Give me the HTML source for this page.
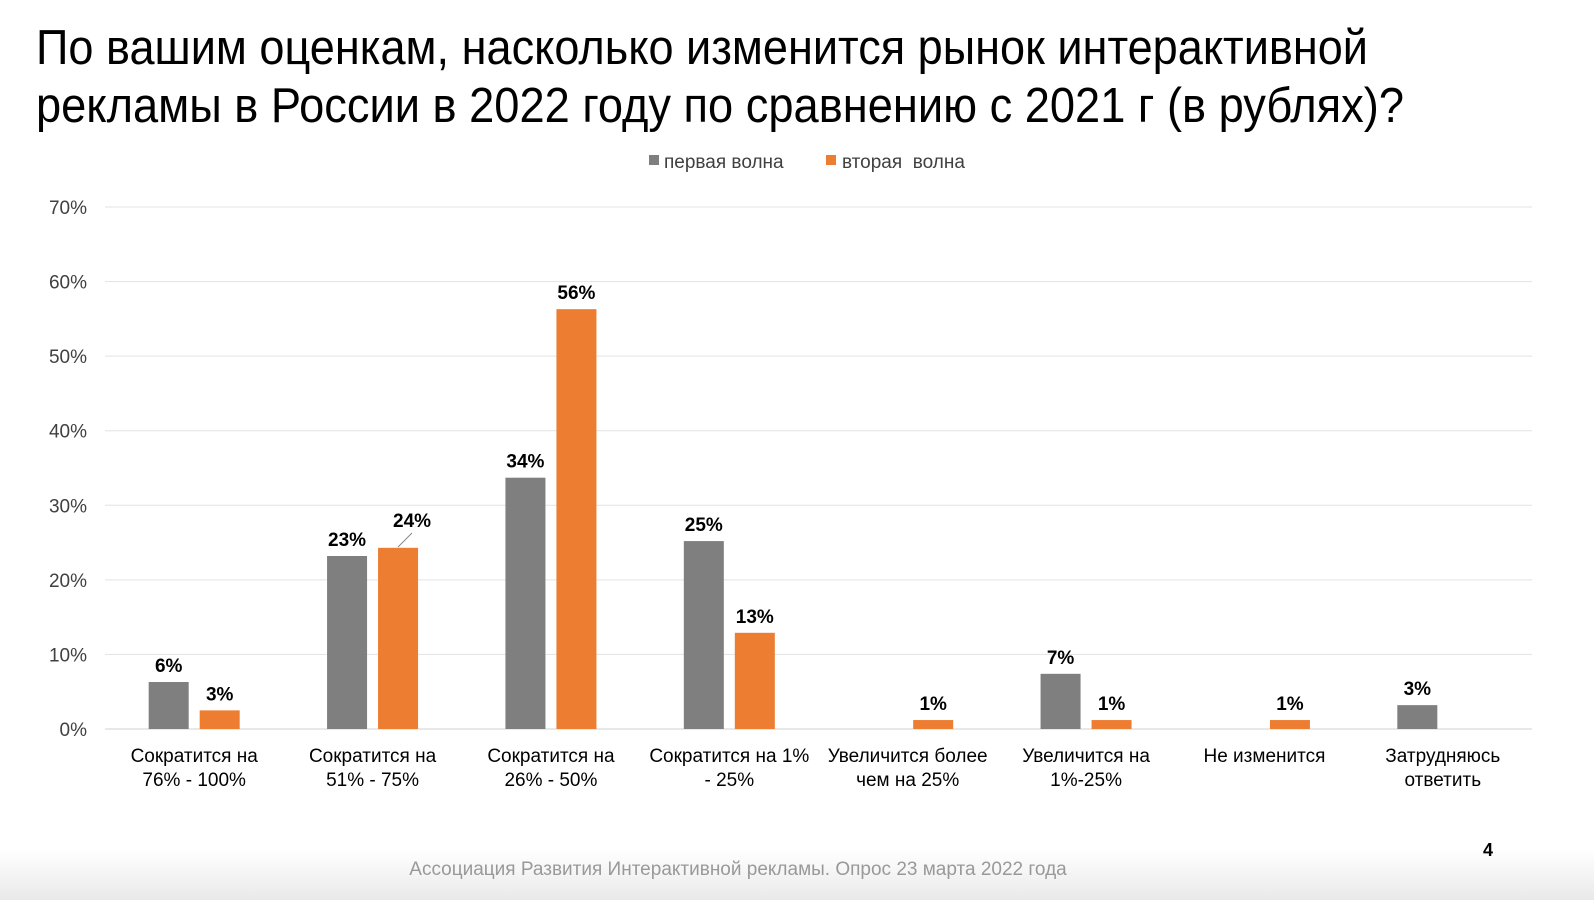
<!DOCTYPE html>
<html><head><meta charset="utf-8"><style>
html,body{margin:0;padding:0;background:#fff}
svg{display:block;font-family:"Liberation Sans",Arial,sans-serif}
</style></head><body>
<svg width="1594" height="900" viewBox="0 0 1594 900">
<defs><linearGradient id="bg" x1="0" y1="0" x2="0" y2="1"><stop offset="0" stop-color="#fff"/><stop offset="1" stop-color="#e9e9e9"/></linearGradient></defs>
<rect x="0" y="850" width="1594" height="50" fill="url(#bg)"/>
<text x="36" y="64" font-size="49" fill="#000" textLength="1332" lengthAdjust="spacingAndGlyphs">По вашим оценкам, насколько изменится рынок интерактивной</text>
<text x="36" y="122" font-size="49" fill="#000" textLength="1368" lengthAdjust="spacingAndGlyphs">рекламы в России в 2022 году по сравнению с 2021 г (в рублях)?</text>
<g>
<rect x="649" y="155" width="10" height="10" fill="#7f7f7f"/>
<text x="664" y="168" font-size="19" fill="#404040">первая волна</text>
<rect x="826" y="155" width="10" height="10" fill="#ed7d31"/>
<text x="842" y="168" font-size="19" fill="#404040" xml:space="preserve">вторая  волна</text>
</g>
<g id="grid"></g><g id="bars"></g><g id="labels"></g>
<line x1="398" y1="547" x2="412" y2="533" stroke="#888" stroke-width="1"/>
<text x="738" y="875" font-size="19" fill="#999" text-anchor="middle">Ассоциация Развития Интерактивной рекламы. Опрос 23 марта 2022 года</text>
<text x="1488" y="856" font-size="18" font-weight="bold" fill="#000" text-anchor="middle">4</text>
</svg>
<script>
const categories=[["Сократится на","76% - 100%"],["Сократится на","51% - 75%"],["Сократится на","26% - 50%"],["Сократится на 1%","- 25%"],["Увеличится более","чем на 25%"],["Увеличится на","1%-25%"],["Не изменится"],["Затрудняюсь","ответить"]];
const wave1=[6.3,23.2,33.7,25.2,null,7.4,null,3.2];
const wave1Labels=["6%","23%","34%","25%","","7%","","3%"];
const wave2=[2.5,24.3,56.3,12.9,1.2,1.2,1.2,null];
const wave2Labels=["3%","24%","56%","13%","1%","1%","1%",""];
const yTicks=[0,10,20,30,40,50,60,70];
const NS="http://www.w3.org/2000/svg";
const x0=105,x1=1532,yB=729,yT=207,maxV=70;
const y=v=>yB-(v/maxV)*(yB-yT);
const band=(x1-x0)/categories.length;
const cx=i=>x0+band*(i+0.5);
function mk(t,a,p){const e=document.createElementNS(NS,t);for(const k in a)e.setAttribute(k,a[k]);p.appendChild(e);return e;}
const g=document.getElementById('grid'),b=document.getElementById('bars'),l=document.getElementById('labels');
yTicks.forEach(t=>{
 const ln=mk('line',{x1:x0,x2:x1,y1:y(t),y2:y(t),stroke:t===0?'#d0d0d0':'#e3e3e3','stroke-width':1},g);
 
 
 const tx=mk('text',{x:87,y:y(t)+7,'font-size':19,'text-anchor':'end',fill:'#404040'},g);
 tx.textContent=t+'%';
 
 
});
const bw=40,off=25.5;
categories.forEach((c,i)=>{
 [[wave1,wave1Labels,'#7f7f7f',-off,'wave1'],[wave2,wave2Labels,'#ed7d31',off,'wave2']].forEach(([vals,labs,col,o,nm])=>{
  const v=vals[i]; if(v==null)return;
  const r=mk('rect',{x:cx(i)+o-bw/2,y:y(v),width:bw,height:yB-y(v),fill:col},b);
  
  
  const ly=(nm==='wave2'&&i===1)?y(v)-21:y(v)-10;
  const t=mk('text',{x:cx(i)+o+(nm==='wave2'&&i===1?14:0),y:ly,'font-size':19,'font-weight':'bold','text-anchor':'middle',fill:'#000'},l);
  t.textContent=labs[i];
  
  
 });
 c.forEach((line,k)=>{
  const t=mk('text',{x:cx(i),y:762+k*24,'font-size':19,'text-anchor':'middle',fill:'#000'},l);
  t.textContent=line;
  
  
 });
});
</script>
</body></html>
